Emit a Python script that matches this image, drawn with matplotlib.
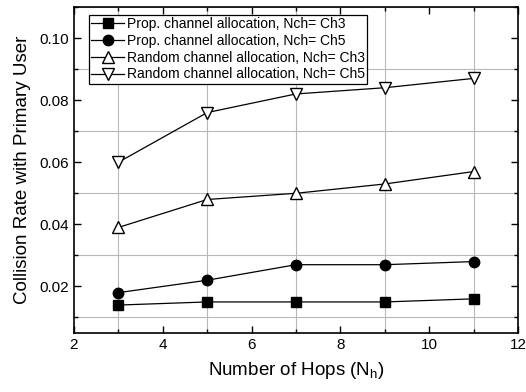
import matplotlib
matplotlib.use("Agg")
import matplotlib.pyplot as plt
from matplotlib.ticker import MultipleLocator

plt.rcParams['font.family'] = ['Liberation Sans', 'DejaVu Sans']

hops = [3, 5, 7, 9, 11]
prop_ch3 = [0.014, 0.015, 0.015, 0.015, 0.016]
prop_ch5 = [0.018, 0.022, 0.027, 0.027, 0.028]
rand_ch3 = [0.039, 0.048, 0.050, 0.053, 0.057]
rand_ch5 = [0.060, 0.076, 0.082, 0.084, 0.087]

fig = plt.figure(figsize=(5.26, 3.92), dpi=100)
ax = fig.add_axes([74/526, 1 - 333/392, 444/526, 326/392])

ax.plot(hops, prop_ch3, '-s', color='black', lw=0.9, ms=7, label='Prop. channel allocation, Nch= Ch3')
ax.plot(hops, prop_ch5, '-o', color='black', lw=0.9, ms=7.5, label='Prop. channel allocation, Nch= Ch5')
ax.plot(hops, rand_ch3, '-^', color='black', mfc='white', lw=0.9, ms=8.5, label='Random channel allocation, Nch= Ch3')
ax.plot(hops, rand_ch5, '-v', color='black', mfc='white', lw=0.9, ms=8.5, label='Random channel allocation, Nch= Ch5')

ax.set_xlim(2, 12)
ax.set_ylim(0.005, 0.11)
ax.xaxis.set_major_locator(MultipleLocator(2))
ax.xaxis.set_minor_locator(MultipleLocator(1))
ax.yaxis.set_major_locator(MultipleLocator(0.02))
ax.yaxis.set_minor_locator(MultipleLocator(0.01))
ax.yaxis.set_major_formatter(plt.FormatStrFormatter('%.2f'))
ax.grid(which='minor', color='#b8b8b8', lw=0.8)
ax.tick_params(which='both', direction='in', top=True, right=True, labelsize=11, width=1)
ax.tick_params(which='major', length=5)
ax.tick_params(which='minor', length=3)
for s in ax.spines.values():
    s.set_linewidth(1.2)

ax.set_xlabel('Number of Hops (N$_\\mathregular{h}$)', fontsize=13.5, labelpad=6)
ax.set_ylabel('Collision Rate with Primary User', fontsize=13.5, labelpad=6)

leg = ax.legend(loc='upper left', bbox_to_anchor=(89/526, 1 - 15/392), bbox_transform=fig.transFigure,
                fontsize=10, frameon=True, fancybox=False, framealpha=1,
                edgecolor='black', borderpad=0.15, labelspacing=0.2, handlelength=2.4,
                handletextpad=0.2, borderaxespad=0)
leg.get_frame().set_linewidth(0.9)

fig.savefig('out.png', dpi=100)
